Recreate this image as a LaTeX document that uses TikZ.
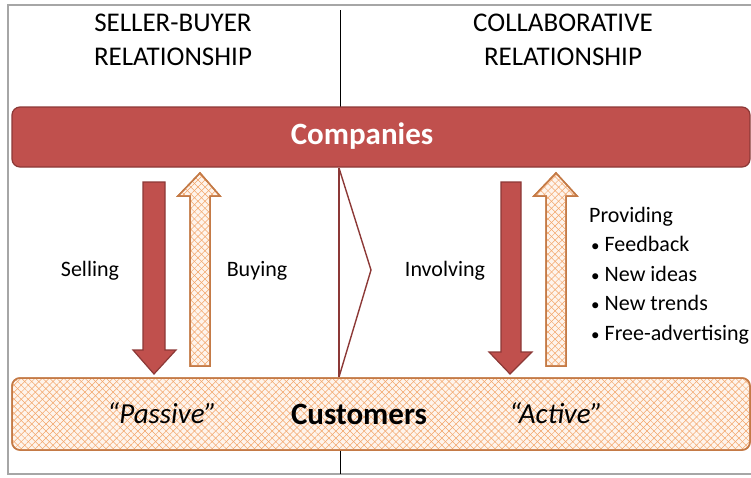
\documentclass[tikz,border=0pt]{standalone}
\usepackage{fontspec}
\setmainfont{Carlito}
\usetikzlibrary{patterns.meta}

\definecolor{compred}{RGB}{192,80,77}
\definecolor{compedge}{RGB}{140,56,54}
\definecolor{hatch}{RGB}{243,165,105}
\definecolor{custedge}{RGB}{196,122,70}
\definecolor{custfill}{RGB}{254,244,236}

\newcommand{\bul}{\hspace*{2pt}{\fontsize{17}{17}\selectfont•}\hspace{5pt}}

\tikzset{
  redfill/.style={fill=compred,draw=compedge,line width=1.2pt},
  meshfill/.style={fill=custfill,draw=custedge,line width=1.5pt,
    postaction={pattern={Lines[angle=45,distance=5pt,line width=0.5pt]},pattern color=hatch},
    postaction={pattern={Lines[angle=-45,distance=5pt,line width=0.5pt]},pattern color=hatch},
    postaction={draw=custedge,line width=1.5pt}},
  head/.style={align=center,font=\fontsize{27}{34}\selectfont},
  lbl/.style={font=\fontsize{22}{29.5}\selectfont},
}

\begin{document}
\begin{tikzpicture}[x=1pt,y=-1pt]

      \useasboundingbox (0,0) rectangle (751,477);

      % frame and divider
      \draw[gray!70,line width=1.2pt] (751,5) -- (8,5) -- (8,474) -- (751,474);
      \draw[black,line width=0.8pt] (340,10) -- (340,107);
      \draw[black,line width=0.8pt] (340,450) -- (340,474);

      \node[head] (sb) at (173,40) {SELLER-BUYER\\RELATIONSHIP};
      \node[head] (co) at (563,40) {COLLABORATIVE\\RELATIONSHIP};

      % bars
      \node[redfill,rounded corners=8pt,minimum width=738,minimum height=60] (compbar) at (381,137) {};
      \node[text=white,font=\fontsize{31}{36}\selectfont\bfseries] (comp) at (362,136) {Companies};

      \node[meshfill,rounded corners=8pt,minimum width=738,minimum height=72] (custbar) at (381,414) {};
      \node[font=\fontsize{31}{36}\selectfont\bfseries] (cust) at (359,414) {Customers};
      \node[font=\fontsize{29}{34}\selectfont\itshape] (pass) at (162,413) {“Passive”};
      \node[font=\fontsize{29}{34}\selectfont\itshape] (act) at (556,413) {“Active”};

      % arrows
      \draw[redfill] (143,182) -- (165,182) -- (165,350) -- (176,350) -- (154,374)
        -- (133,350) -- (143,350) -- cycle;
      \draw[meshfill] (190,366) -- (210,366) -- (210,196) -- (220,196) -- (200,173)
        -- (178,196) -- (190,196) -- cycle;
      \draw[redfill] (501,182) -- (521,182) -- (521,352) -- (532,352) -- (510,374)
        -- (489,352) -- (501,352) -- cycle;
      \draw[meshfill] (546,366) -- (566,366) -- (566,196) -- (577,196) -- (556,173)
        -- (534,196) -- (546,196) -- cycle;

      % chevron
      \draw[compedge,line width=1.4pt] (339,168) -- (339,377);
      \draw[compedge,line width=1.4pt,line join=miter] (339,168) -- (371,270) -- (339,377);

      \node[lbl] (sell) at (90,271) {Selling};
      \node[lbl] (buy) at (257,271) {Buying};
      \node[lbl] (inv) at (445,271) {Involving};
      \node[lbl,align=left,anchor=north west,inner sep=0pt] (prov) at (589,207)
        {Providing\\\bul Feedback\\\bul New ideas\\\bul New trends\\\bul Free-advertising};

\end{tikzpicture}
\end{document}
